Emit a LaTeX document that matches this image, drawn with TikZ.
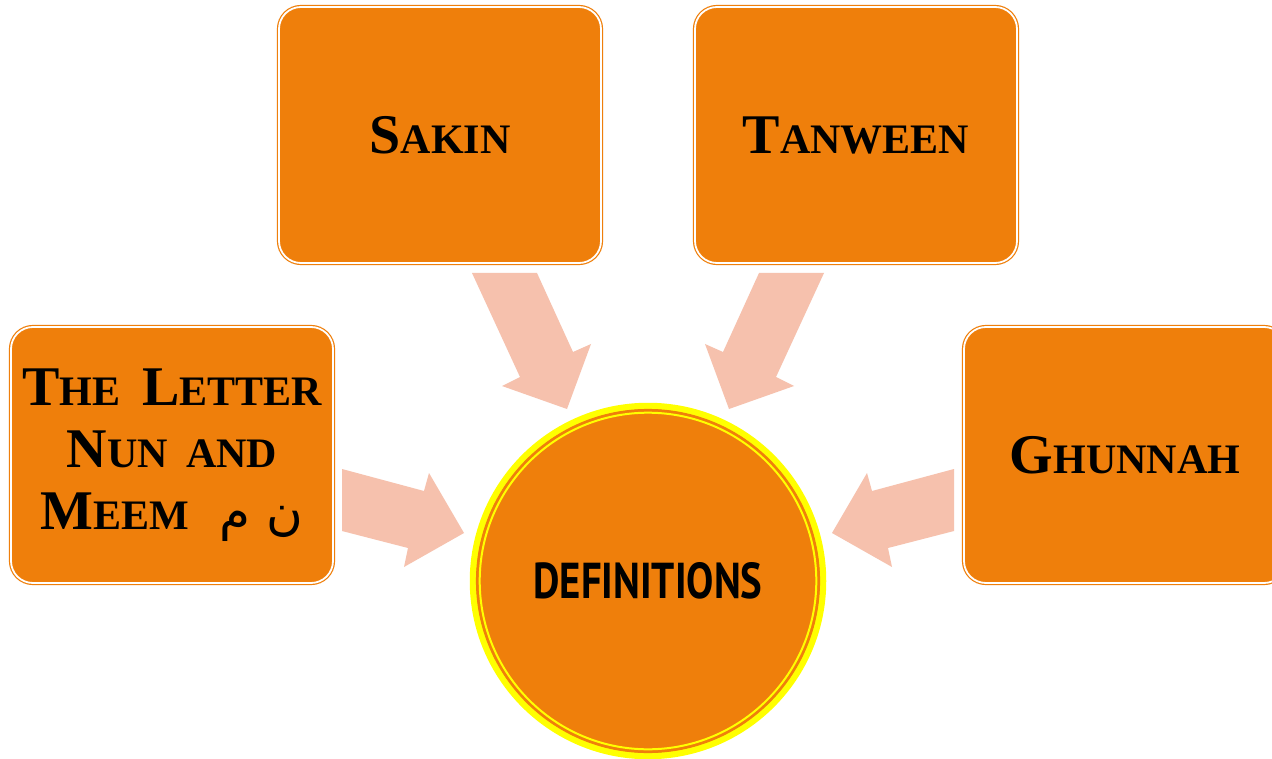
\documentclass[tikz,border=0pt]{standalone}
\usepackage{fontspec}
\setmainfont{Liberation Serif}
\newfontfamily\arabicfont[Script=Arabic]{DejaVu Sans}
\newfontfamily\titlefont{PT Sans}
\TeXXeTstate=1
\definecolor{boxorange}{RGB}{239,127,11}
\definecolor{arrowpink}{RGB}{246,193,173}
\definecolor{ringyellow}{RGB}{255,255,0}
% small-caps words: large initial, smaller remaining capitals
\newcommand\capL[1]{{\fontsize{56}{62}\selectfont #1}}
\newcommand\capS[1]{{\fontsize{42}{62}\selectfont #1}}
\newcommand\tword[2]{\capL{#1}\capS{#2}}
\begin{document}
\begin{tikzpicture}[x=1pt,y=-1pt,
  topicbox/.style={rectangle, rounded corners=22pt, fill=boxorange,
    draw=boxorange, line width=1.2pt, double=white, double distance=1.8pt,
    minimum width=322pt, minimum height=256pt, inner sep=0pt,
    font=\bfseries\fontsize{42}{62}\selectfont, text=black, align=center},
  hub/.style={circle, fill=boxorange, draw=ringyellow, line width=6.5pt,
    minimum size=350pt, inner sep=0pt},
  blockarrow/.style={fill=arrowpink}]
  \clip (0,0) rectangle (1272,759);
  \fill[white] (0,0) rectangle (1272,759);

  % pale block arrows pointing at the hub
  \fill[blockarrow] (472,273) -- (537,273) -- (573,352) -- (591,344)
    -- (567,409) -- (502,386) -- (520,377) -- cycle;
  \fill[blockarrow] (824,273) -- (759,273) -- (723,352) -- (705,344)
    -- (729,409) -- (794,386) -- (776,377) -- cycle;
  \fill[blockarrow] (342,469) -- (424,491) -- (429,473) -- (464,533)
    -- (404,567) -- (408,548) -- (342,531) -- cycle;
  \fill[blockarrow] (954,469) -- (872,491) -- (867,473) -- (832,533)
    -- (892,567) -- (888,548) -- (954,531) -- cycle;

  % central hub
  \node[hub] (def) at (648,581) {\resizebox{229pt}{36pt}{\titlefont\bfseries DEFINITIONS}};
  \draw[boxorange, line width=2.7pt] (def.center) circle[radius=170.7pt];
  \draw[ringyellow, line width=2pt] (def.center) circle[radius=168.3pt];

  % topic boxes
  \node[topicbox] (sakin) at (440,135) {\tword{S}{AKIN}};
  \node[topicbox] (tanween) at (856,135) {\tword{T}{ANWEEN}};
  \node[topicbox] (nun) at (172,455) {\tword{T}{HE}\hspace{22pt}\tword{L}{ETTER}\\
    \tword{N}{UN}\hspace{18pt}\capS{AND}\\
    \tword{M}{EEM}\hspace{30pt}{\arabicfont\mdseries\fontsize{50}{62}\selectfont\beginR ن م\endR}};
  \node[topicbox] (ghunnah) at (1125,455) {\tword{G}{HUNNAH}};
\end{tikzpicture}
\end{document}
